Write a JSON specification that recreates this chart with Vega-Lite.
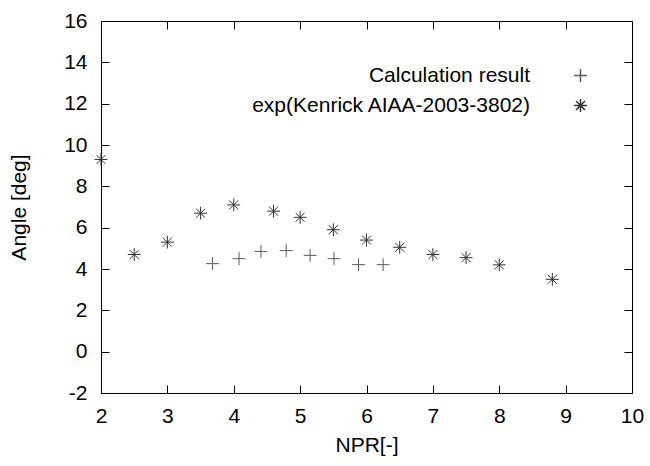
{
  "$schema": "https://vega.github.io/schema/vega-lite/v6.json",
  "width": 531,
  "height": 372,
  "autosize": {"type": "none"},
  "padding": {"left": 101, "top": 21, "right": 18, "bottom": 73},
  "background": "white",
  "config": {
    "font": "Liberation Sans",
    "view": {"stroke": "#000", "strokeWidth": 1},
    "axis": {
      "grid": false,
      "domain": false,
      "tickColor": "#000",
      "tickWidth": 1,
      "tickSize": -8,
      "labelFont": "Liberation Sans",
      "labelFontSize": 21,
      "labelColor": "#000",
      "titleFont": "Liberation Sans",
      "titleFontSize": 21,
      "titleFontWeight": "normal",
      "titleColor": "#000"
    },
    "legend": {
      "labelFont": "Liberation Sans",
      "labelFontSize": 21,
      "labelColor": "#000"
    }
  },
  "data": {
    "values": [
      {"npr": 2.0, "angle": 9.3, "series": "exp(Kenrick AIAA-2003-3802)"},
      {"npr": 2.5, "angle": 4.7, "series": "exp(Kenrick AIAA-2003-3802)"},
      {"npr": 3.0, "angle": 5.3, "series": "exp(Kenrick AIAA-2003-3802)"},
      {"npr": 3.5, "angle": 6.7, "series": "exp(Kenrick AIAA-2003-3802)"},
      {"npr": 4.0, "angle": 7.1, "series": "exp(Kenrick AIAA-2003-3802)"},
      {"npr": 4.6, "angle": 6.8, "series": "exp(Kenrick AIAA-2003-3802)"},
      {"npr": 5.0, "angle": 6.5, "series": "exp(Kenrick AIAA-2003-3802)"},
      {"npr": 5.5, "angle": 5.9, "series": "exp(Kenrick AIAA-2003-3802)"},
      {"npr": 6.0, "angle": 5.4, "series": "exp(Kenrick AIAA-2003-3802)"},
      {"npr": 6.5, "angle": 5.05, "series": "exp(Kenrick AIAA-2003-3802)"},
      {"npr": 7.0, "angle": 4.7, "series": "exp(Kenrick AIAA-2003-3802)"},
      {"npr": 7.5, "angle": 4.55, "series": "exp(Kenrick AIAA-2003-3802)"},
      {"npr": 8.0, "angle": 4.2, "series": "exp(Kenrick AIAA-2003-3802)"},
      {"npr": 8.8, "angle": 3.5, "series": "exp(Kenrick AIAA-2003-3802)"},
      {"npr": 3.68, "angle": 4.26, "series": "Calculation result"},
      {"npr": 4.08, "angle": 4.5, "series": "Calculation result"},
      {"npr": 4.41, "angle": 4.85, "series": "Calculation result"},
      {"npr": 4.79, "angle": 4.89, "series": "Calculation result"},
      {"npr": 5.15, "angle": 4.66, "series": "Calculation result"},
      {"npr": 5.51, "angle": 4.5, "series": "Calculation result"},
      {"npr": 5.88, "angle": 4.21, "series": "Calculation result"},
      {"npr": 6.25, "angle": 4.21, "series": "Calculation result"}
    ]
  },
  "layer": [
    {
      "mark": {"type": "point", "opacity": 0},
      "encoding": {
        "x": {
          "field": "npr", "type": "quantitative",
          "scale": {"domain": [2, 10], "nice": false, "zero": false},
          "axis": {"orient": "top", "title": null, "labels": false, "values": [2, 3, 4, 5, 6, 7, 8, 9, 10]}
        },
        "y": {
          "field": "angle", "type": "quantitative",
          "scale": {"domain": [-2, 16], "nice": false, "zero": false},
          "axis": {"orient": "right", "title": null, "labels": false, "values": [-2, 0, 2, 4, 6, 8, 10, 12, 14, 16]}
        }
      }
    },
    {
      "mark": {"type": "point", "filled": false, "strokeWidth": 1, "size": 165, "opacity": 1},
      "encoding": {
        "x": {
          "field": "npr", "type": "quantitative",
          "scale": {"domain": [2, 10], "nice": false, "zero": false},
          "axis": {"orient": "bottom", "title": "NPR[-]", "values": [2, 3, 4, 5, 6, 7, 8, 9, 10], "labelPadding": 20, "titlePadding": 8, "labelFlush": false, "labelExpr": "'' + datum.value"}
        },
        "y": {
          "field": "angle", "type": "quantitative",
          "scale": {"domain": [-2, 16], "nice": false, "zero": false},
          "axis": {"orient": "left", "title": "Angle [deg]", "values": [-2, 0, 2, 4, 6, 8, 10, 12, 14, 16], "labelPadding": 22, "titlePadding": 34, "labelFlush": false, "labelExpr": "'' + datum.value"}
        },
        "shape": {
          "field": "series", "type": "nominal",
          "scale": {
            "domain": ["Calculation result", "exp(Kenrick AIAA-2003-3802)"],
            "range": ["M-1,0H1M0,-1V1", "M-1,0H1M0,-1V1M-0.7,-0.7L0.7,0.7M-0.7,0.7L0.7,-0.7"]
          },
          "legend": {
            "orient": "none",
            "legendX": 469,
            "legendY": 44,
            "title": null,
            "labelAlign": "right",
            "labelOffset": -61,
            "symbolSize": 165,
            "symbolOpacity": 1,
            "rowPadding": 8,
            "labelLimit": 400
          }
        },
        "color": {
          "field": "series", "type": "nominal",
          "scale": {
            "domain": ["Calculation result", "exp(Kenrick AIAA-2003-3802)"],
            "range": ["#5a5a5a", "#333333"]
          },
          "legend": {
            "orient": "none",
            "legendX": 469,
            "legendY": 44,
            "title": null,
            "labelAlign": "right",
            "labelOffset": -61,
            "symbolSize": 165,
            "symbolOpacity": 1,
            "rowPadding": 8,
            "labelLimit": 400
          }
        }
      }
    }
  ],
  "resolve": {"scale": {"x": "independent", "y": "independent"}}
}
